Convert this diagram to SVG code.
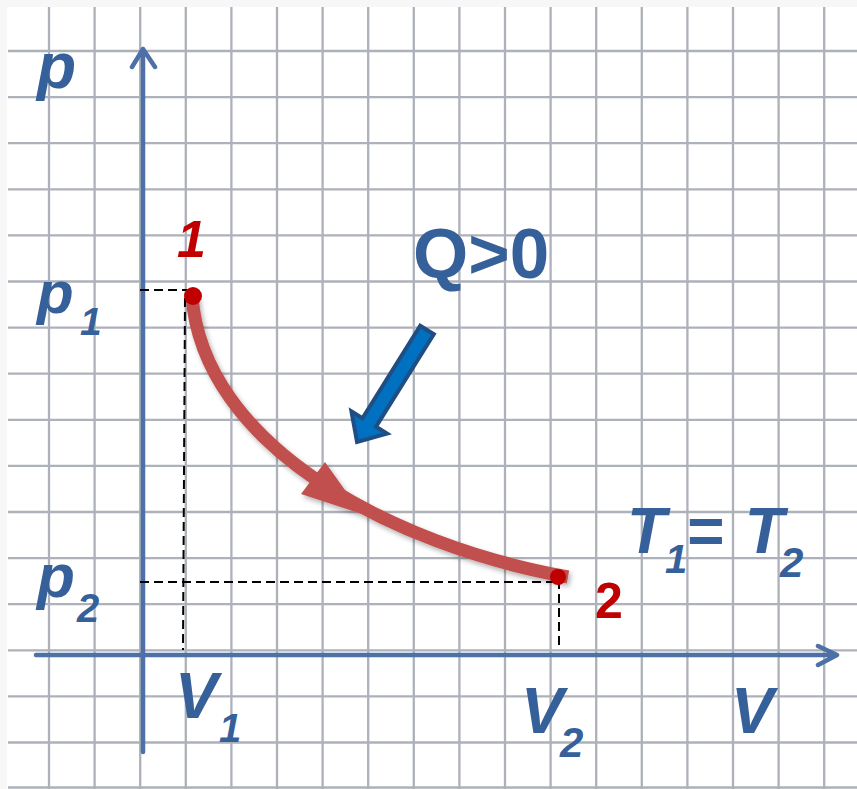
<svg xmlns="http://www.w3.org/2000/svg" width="857" height="789" viewBox="0 0 857 789">
<defs>
<style>
.grid line{stroke:#adb1b9;stroke-width:2.3}
.axis{stroke:#4d70a6;stroke-width:4.5;fill:none;stroke-linecap:round;stroke-linejoin:round}
.dash{stroke:#000;stroke-width:2;stroke-dasharray:9 5;fill:none}
.lbl{font-family:"Liberation Sans",Arial,sans-serif;font-weight:bold;font-style:italic;fill:#36609a}
.q{font-family:"Liberation Sans",Arial,sans-serif;font-weight:bold;fill:#36609a}
.red{font-family:"Liberation Sans",Arial,sans-serif;font-weight:bold;fill:#c00000}
</style>
<filter id="sh" x="-10%" y="-10%" width="130%" height="130%">
<feDropShadow dx="2" dy="3" stdDeviation="2.5" flood-color="#000" flood-opacity="0.3"/>
</filter>
</defs>
<rect width="857" height="789" fill="#ffffff"/>
<g class="grid" id="grid">
<line x1="49" y1="6" x2="49" y2="789"/>
<line x1="94.6" y1="6" x2="94.6" y2="789"/>
<line x1="140.2" y1="6" x2="140.2" y2="789"/>
<line x1="185.8" y1="6" x2="185.8" y2="789"/>
<line x1="231.4" y1="6" x2="231.4" y2="789"/>
<line x1="277" y1="6" x2="277" y2="789"/>
<line x1="322.6" y1="6" x2="322.6" y2="789"/>
<line x1="368.2" y1="6" x2="368.2" y2="789"/>
<line x1="413.8" y1="6" x2="413.8" y2="789"/>
<line x1="459.4" y1="6" x2="459.4" y2="789"/>
<line x1="505" y1="6" x2="505" y2="789"/>
<line x1="550.6" y1="6" x2="550.6" y2="789"/>
<line x1="596.2" y1="6" x2="596.2" y2="789"/>
<line x1="641.8" y1="6" x2="641.8" y2="789"/>
<line x1="687.4" y1="6" x2="687.4" y2="789"/>
<line x1="733" y1="6" x2="733" y2="789"/>
<line x1="778.6" y1="6" x2="778.6" y2="789"/>
<line x1="824.2" y1="6" x2="824.2" y2="789"/>
<line x1="8" y1="51" x2="857" y2="51"/>
<line x1="8" y1="97.1" x2="857" y2="97.1"/>
<line x1="8" y1="143.2" x2="857" y2="143.2"/>
<line x1="8" y1="189.3" x2="857" y2="189.3"/>
<line x1="8" y1="235.4" x2="857" y2="235.4"/>
<line x1="8" y1="281.5" x2="857" y2="281.5"/>
<line x1="8" y1="327.6" x2="857" y2="327.6"/>
<line x1="8" y1="373.7" x2="857" y2="373.7"/>
<line x1="8" y1="419.8" x2="857" y2="419.8"/>
<line x1="8" y1="465.9" x2="857" y2="465.9"/>
<line x1="8" y1="512" x2="857" y2="512"/>
<line x1="8" y1="558.1" x2="857" y2="558.1"/>
<line x1="8" y1="604.2" x2="857" y2="604.2"/>
<line x1="8" y1="650.3" x2="857" y2="650.3"/>
<line x1="8" y1="696.4" x2="857" y2="696.4"/>
<line x1="8" y1="742.5" x2="857" y2="742.5"/>
<line x1="8" y1="787.5" x2="857" y2="787.5"/>
</g>
<rect x="0" y="0" width="857" height="7" fill="#f7f7f8"/>
<rect x="0" y="0" width="7" height="789" fill="#f7f7f8"/>
<g id="axes">
<path class="axis" d="M143 752 V49 M132 67 L143 49 L155 67"/>
<path class="axis" d="M36 655 H837 M818 646 L837 655 L818 665"/>
</g>
<g id="connectors">
<path class="dash" d="M140 290 H190"/>
<path class="dash" d="M185 298 L183 650"/>
<path class="dash" d="M140 582 H560"/>
<path class="dash" d="M559 580 V650"/>
<g filter="url(#sh)">
<path d="M192 296 C203 445 390 545 568 577" fill="none" stroke="#c0504d" stroke-width="13"/>
<polygon points="325,462 301,494 362,514" fill="#c0504d"/>
</g>
<polygon points="0,-8 109,-8 109,-21 132,0 109,21 109,8 0,8" transform="translate(427,330) rotate(122)" fill="#0070c0" stroke="#1f4e85" stroke-width="4" stroke-linejoin="miter"/>
</g>
<g id="point1">
<circle cx="193" cy="296" r="9" fill="#c00000"/>
<text class="red" x="177" y="257" font-size="52" font-style="italic">1</text>
</g>
<g id="point2">
<circle cx="558" cy="577" r="8" fill="#c00000"/>
<text class="red" x="595" y="618" font-size="50">2</text>
</g>
<g id="label-p"><text class="lbl" x="37" y="88" font-size="64">p</text></g>
<g id="label-p1"><text class="lbl" x="37" y="313" font-size="60">p<tspan x="80" y="335" font-size="39">1</tspan></text></g>
<g id="label-p2"><text class="lbl" x="37" y="597" font-size="62">p<tspan x="77" y="622" font-size="40">2</tspan></text></g>
<g id="label-V1"><text class="lbl" x="175" y="718" font-size="64">V<tspan x="219" y="742" font-size="40">1</tspan></text></g>
<g id="label-V2"><text class="lbl" x="521" y="733" font-size="64">V<tspan x="560" y="757" font-size="42">2</tspan></text></g>
<g id="label-V"><text class="lbl" x="731" y="733" font-size="64">V</text></g>
<g id="label-T"><text class="lbl" x="627" y="553" font-size="64">T<tspan x="665" y="573" font-size="40">1</tspan><tspan x="686" y="553" font-size="64">=</tspan><tspan x="727" y="553" font-size="64"> T</tspan><tspan x="780" y="577" font-size="42">2</tspan></text></g>
<g id="label-Q"><text class="q" x="413" y="278" font-size="71">Q&gt;0</text></g>
</svg>
